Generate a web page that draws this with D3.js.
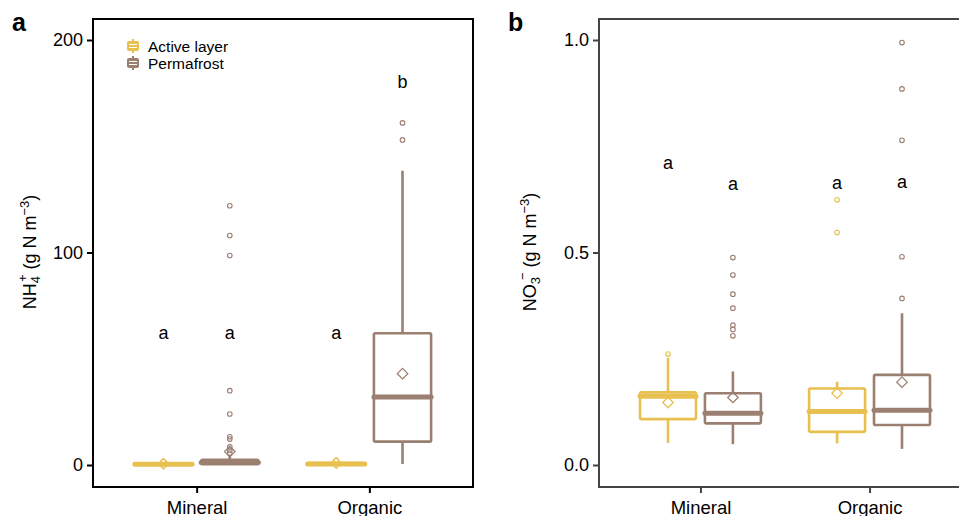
<!DOCTYPE html>
<html>
<head>
<meta charset="utf-8">
<script src="https://cdn.jsdelivr.net/npm/d3@7"></script>
<style>
  body { margin: 0; background: #fff; }
  svg { display: block; font-family: "Liberation Sans", Arial, Helvetica, sans-serif; }
</style>
</head>
<body>
<div class="wrapper"></div>
<script>
// categories
const groups = ["Mineral", "Organic"];
const layers = ["Active layer", "Permafrost"];
// boxes in order: Mineral/Active, Mineral/Permafrost, Organic/Active, Organic/Permafrost

// NH4+ (panel a)
const nh4Lower   = [0, 0.3, 0.1, 0.5];
const nh4Q1      = [0.1, 0.4, 0.1, 11];
const nh4Median  = [0.3, 1.2, 0.5, 32];
const nh4Q3      = [0.6, 2.4, 0.9, 62];
const nh4Upper   = [1.2, 4.5, 1.5, 138.5];
const nh4Mean    = [0.6, 6.3, 0.9, 43];
const nh4Outliers = [[1.5], [5.6, 7.0, 8.5, 12.2, 13.3, 24, 35, 98.6, 108, 122], [2.2], [153, 161]];
const nh4Letters = ["a", "a", "a", "b"];
const nh4LetterY = [62, 62, 62, 180];
const nh4Ticks = [0, 100, 200];

// NO3- (panel b)
const no3Lower   = [0.052, 0.049, 0.051, 0.038];
const no3Q1      = [0.108, 0.098, 0.078, 0.094];
const no3Median  = [0.162, 0.122, 0.126, 0.129];
const no3Q3      = [0.171, 0.169, 0.180, 0.212];
const no3Upper   = [0.252, 0.220, 0.196, 0.357];
const no3Mean    = [0.147, 0.159, 0.169, 0.195];
const no3Outliers = [[0.261], [0.304, 0.319, 0.329, 0.369, 0.402, 0.447, 0.488], [0.547, 0.624], [0.392, 0.490, 0.764, 0.885, 0.994]];
const no3Letters = ["a", "a", "a", "a"];
const no3LetterY = [0.711, 0.661, 0.664, 0.666];
const no3Ticks = [0, 0.5, 1.0];

const colors = {"Active layer": "#e8c04f", "Permafrost": "#9b7f71"};

const svg = d3.select(".wrapper").append("svg")
    .attr("width", 959)
    .attr("height", 516);

function buildRows(lo, q1, med, q3, hi, mean, outs, letters, letterY) {
    const rows = [];
    let k = 0;
    groups.forEach(g => {
        layers.forEach(l => {
            rows.push({group: g, layer: l, lo: lo[k], q1: q1[k], med: med[k], q3: q3[k],
                hi: hi[k], mean: mean[k], outs: outs[k], letter: letters[k], letterY: letterY[k]});
            k++;
        });
    });
    return rows;
}

function drawPanel(opt) {
    const g = svg.append("g");
    const y = d3.scaleLinear().domain(opt.domain).range([465, 40]);
    const x = d3.scalePoint().domain(groups).range([opt.left, opt.right]).padding(0.6);
    const step = x.step();
    const xSub = d3.scaleBand().domain(layers).range([-step * 0.38, step * 0.38]).paddingInner(0.02);
    const bw = xSub.bandwidth() * 0.88;
    const cx = d => x(d.group) + xSub(d.layer) + xSub.bandwidth() / 2;

    // whiskers
    g.selectAll("line.whisk").data(opt.rows).join("line")
        .attr("class", "whisk")
        .attr("x1", cx).attr("x2", cx)
        .attr("y1", d => y(d.hi)).attr("y2", d => y(d.lo))
        .attr("stroke", d => colors[d.layer]).attr("stroke-width", 2.6);

    // boxes
    g.selectAll("rect.box").data(opt.rows).join("rect")
        .attr("class", "box")
        .attr("x", d => cx(d) - bw / 2)
        .attr("width", bw)
        .attr("y", d => y(d.q3))
        .attr("height", d => y(d.q1) - y(d.q3))
        .attr("rx", 1.5)
        .attr("fill", "#fff")
        .attr("stroke", d => colors[d.layer]).attr("stroke-width", 2.6);

    // medians
    g.selectAll("line.med").data(opt.rows).join("line")
        .attr("class", "med")
        .attr("x1", d => cx(d) - bw / 2).attr("x2", d => cx(d) + bw / 2)
        .attr("y1", d => y(d.med)).attr("y2", d => y(d.med))
        .attr("stroke", d => colors[d.layer]).attr("stroke-width", 5)
        .attr("stroke-linecap", "round");

    // outliers
    opt.rows.forEach(d => {
        g.selectAll(null).data(d.outs).join("circle")
            .attr("cx", cx(d)).attr("cy", v => y(v)).attr("r", 2.3)
            .attr("fill", "none").attr("stroke", colors[d.layer]).attr("stroke-width", 1.1);
    });

    // means
    g.selectAll("path.mean").data(opt.rows).join("path")
        .attr("class", "mean")
        .attr("d", d3.symbol(d3.symbolDiamond2, 70))
        .attr("transform", d => "translate(" + cx(d) + "," + y(d.mean) + ")")
        .attr("fill", "none")
        .attr("stroke", d => colors[d.layer]).attr("stroke-width", 1.3);

    // significance letters
    g.selectAll("text.letter").data(opt.rows).join("text")
        .attr("class", "letter")
        .attr("x", cx).attr("y", d => y(d.letterY))
        .attr("dy", "0.32em")
        .attr("text-anchor", "middle")
        .attr("font-size", 18)
        .text(d => d.letter);

    // frame
    g.append("rect")
        .attr("x", opt.left).attr("y", 19)
        .attr("width", opt.right - opt.left).attr("height", 487 - 19)
        .attr("fill", "none").attr("stroke", opt.frame).attr("stroke-width", 2);

    // axes
    const yAxis = g.append("g")
        .attr("transform", "translate(" + opt.left + ",0)")
        .call(d3.axisLeft(y).tickValues(opt.ticks).tickFormat(opt.fmt).tickSize(6).tickSizeOuter(0).tickPadding(4));
    const xAxis = g.append("g")
        .attr("transform", "translate(0,487)")
        .call(d3.axisBottom(x).tickSize(6).tickSizeOuter(0).tickPadding(8));
    [yAxis, xAxis].forEach(a => {
        a.select(".domain").remove();
        a.selectAll(".tick line").attr("stroke", opt.frame).attr("stroke-width", 2);
        a.selectAll(".tick text").attr("fill", "#000").attr("font-family", null);
    });
    yAxis.selectAll(".tick text").attr("font-size", 18);
    xAxis.selectAll(".tick text").attr("font-size", 18.5);

    // panel letter
    g.append("text")
        .attr("x", opt.letterX).attr("y", 31)
        .attr("font-size", 25).attr("font-weight", "bold")
        .text(opt.panel);

    // y title
    const t = g.append("text")
        .attr("transform", "translate(" + opt.titleX + ",252) rotate(-90)")
        .attr("text-anchor", "middle")
        .attr("font-size", 18);
    opt.title(t);
    return g;
}

drawPanel({
    panel: "a", letterX: 12, left: 93, right: 473, frame: "#000",
    domain: [0, 200], ticks: nh4Ticks, fmt: d3.format("d"), titleX: 36,
    rows: buildRows(nh4Lower, nh4Q1, nh4Median, nh4Q3, nh4Upper, nh4Mean, nh4Outliers, nh4Letters, nh4LetterY),
    title: t => {
        t.append("tspan").text("NH");
        t.append("tspan").attr("dy", 4).attr("font-size", 13).text("4");
        t.append("tspan").attr("dx", -6).attr("dy", -13).attr("font-size", 13).text("+");
        t.append("tspan").attr("dy", 9).text(" (g N m");
        t.append("tspan").attr("dy", -7).attr("font-size", 13).text("\u22123");
        t.append("tspan").attr("dy", 7).text(")");
    }
});

drawPanel({
    panel: "b", letterX: 508, left: 599, right: 971, frame: "#444",
    domain: [0, 1], ticks: no3Ticks, fmt: d3.format(".1f"), titleX: 536,
    rows: buildRows(no3Lower, no3Q1, no3Median, no3Q3, no3Upper, no3Mean, no3Outliers, no3Letters, no3LetterY),
    title: t => {
        t.append("tspan").text("NO");
        t.append("tspan").attr("dy", 4).attr("font-size", 13).text("3");
        t.append("tspan").attr("dx", -3).attr("dy", -13).attr("font-size", 13).text("\u2212");
        t.append("tspan").attr("dy", 9).text("  (g N m");
        t.append("tspan").attr("dy", -7).attr("font-size", 13).text("\u22123");
        t.append("tspan").attr("dy", 7).text(")");
    }
});

// legend
const legend = svg.append("g").attr("transform", "translate(133,46)");
layers.forEach((l, i) => {
    const row = legend.append("g").attr("transform", "translate(0," + (i * 17) + ")");
    row.append("line").attr("y1", -7).attr("y2", 7)
        .attr("stroke", colors[l]).attr("stroke-width", 2);
    row.append("rect").attr("x", -6).attr("y", -5).attr("width", 12).attr("height", 10)
        .attr("rx", 2).attr("fill", colors[l]);
    row.append("line").attr("x1", -4).attr("x2", 4).attr("y1", -1.5).attr("y2", -1.5)
        .attr("stroke", "#fff").attr("stroke-width", 1);
    row.append("line").attr("x1", -4).attr("x2", 4).attr("y1", 1.5).attr("y2", 1.5)
        .attr("stroke", "#fff").attr("stroke-width", 1);
    row.append("text").attr("x", 15).attr("y", 0).attr("dy", "0.36em")
        .attr("font-size", 15.5).text(l);
});
</script>
</body>
</html>
